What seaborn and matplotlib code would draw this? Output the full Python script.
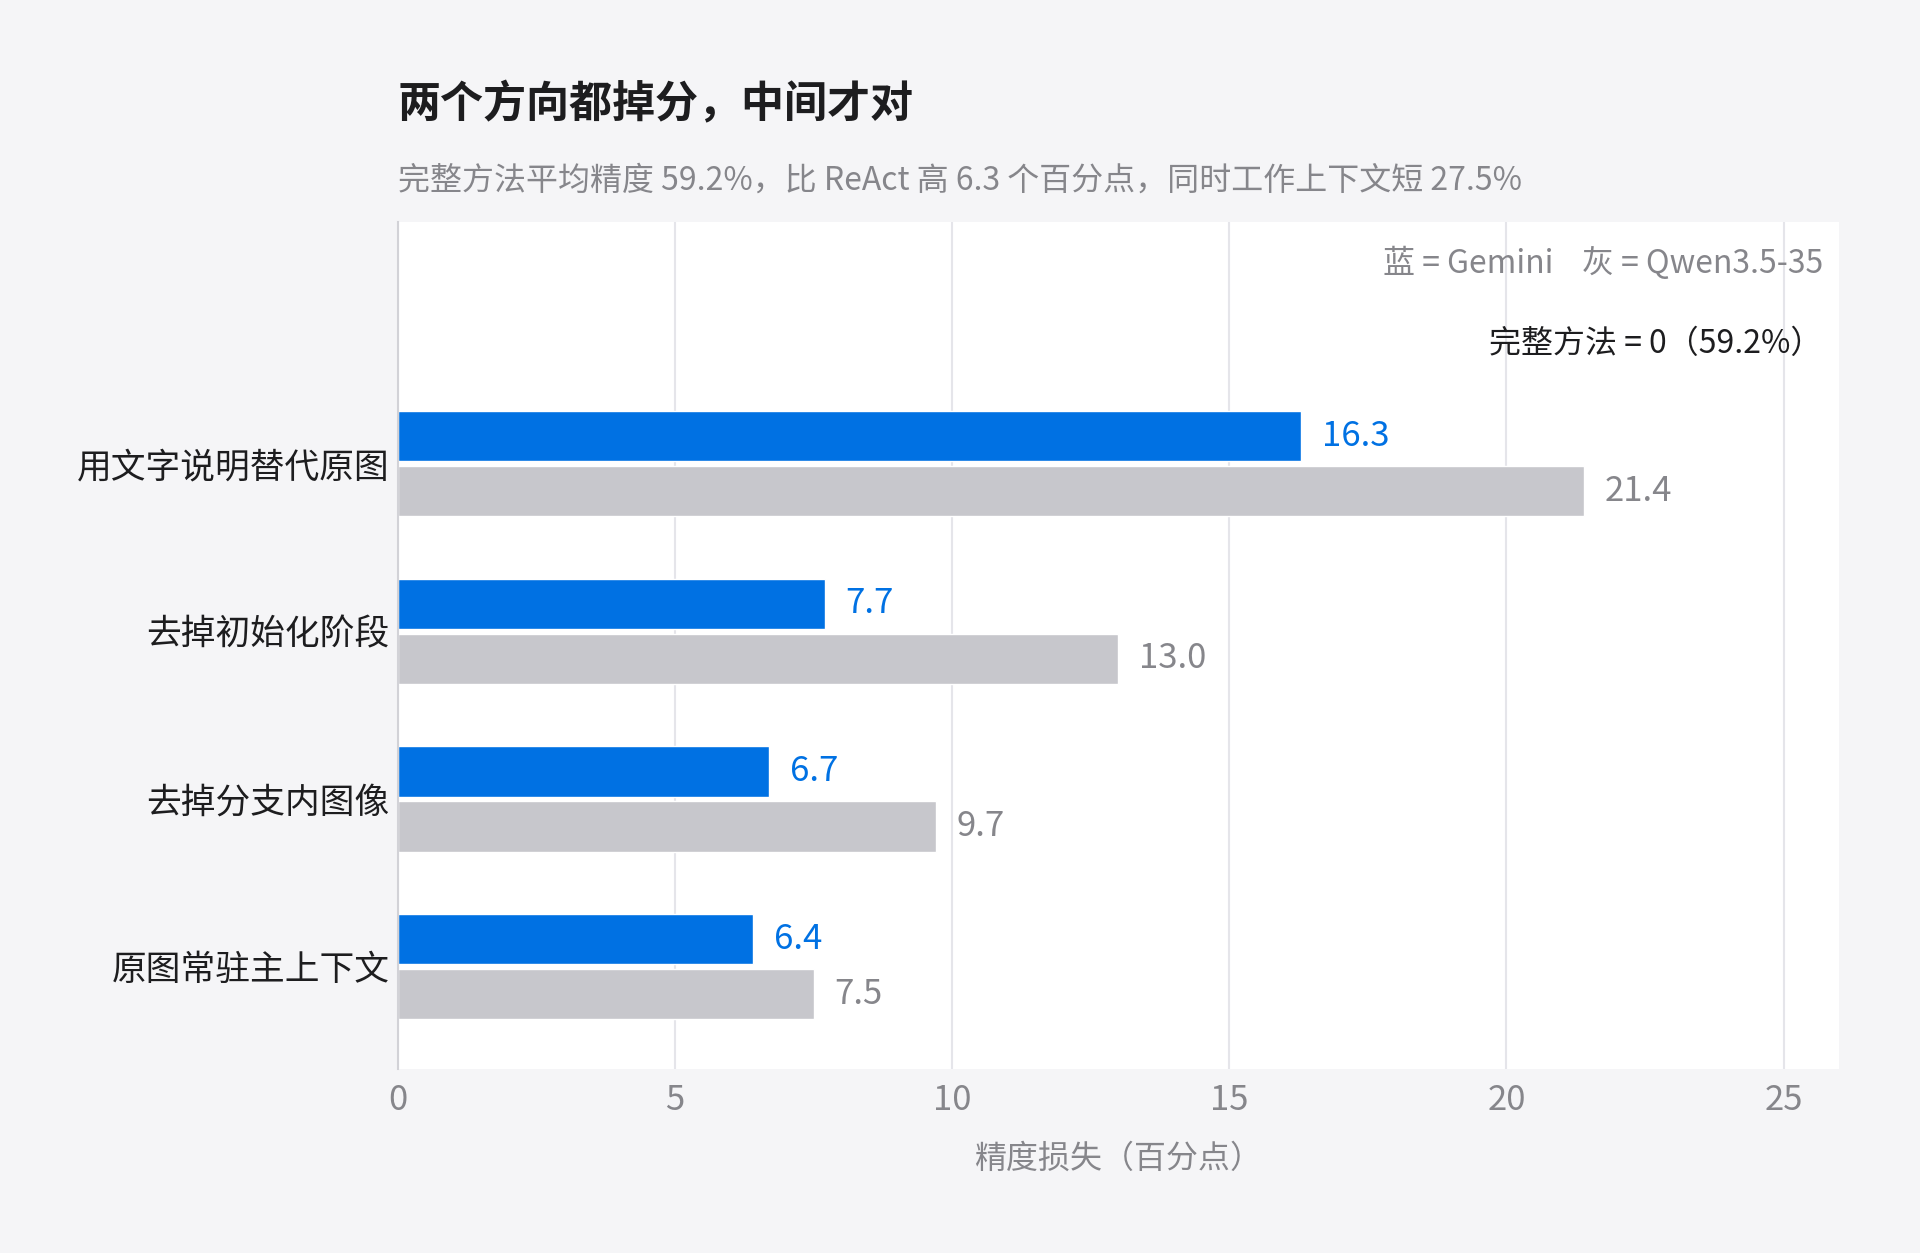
import numpy as np
import pandas as pd
import seaborn as sns
import matplotlib.pyplot as plt

sns.set_style("white")
plt.rcParams['font.family'] = ['Noto Sans CJK SC', 'DejaVu Sans']

# data
categories = ["用文字说明替代原图", "去掉初始化阶段", "去掉分支内图像", "原图常驻主上下文"]
models = ["Gemini", "Qwen3.5-35"]
gemini_loss = [16.3, 7.7, 6.7, 6.4]
qwen_loss = [21.4, 13.0, 9.7, 7.5]
x_ticks = [0, 5, 10, 15, 20, 25]

title = "两个方向都掉分，中间才对"
subtitle = "完整方法平均精度 59.2%，比 ReAct 高 6.3 个百分点，同时工作上下文短 27.5%"
legend_note = "蓝 = Gemini    灰 = Qwen3.5-35"
base_note = "完整方法 = 0（59.2%）"
x_label = "精度损失（百分点）"

BLUE = "#0071E3"
GREY = "#C7C7CC"
TEXT_GREY = "#86868B"
DARK = "#1D1D1F"
BG = "#F5F5F7"

df = pd.DataFrame({
    "cat": categories * 2,
    "model": [models[0]] * 4 + [models[1]] * 4,
    "loss": gemini_loss + qwen_loss,
})

fig = plt.figure(figsize=(19.2, 12.53), dpi=100)
fig.patch.set_facecolor(BG)
ax = fig.add_axes([0.2073, 0.1468, 0.7505, 0.676])
ax.set_facecolor("white")

sns.barplot(data=df, y="cat", x="loss", hue="model", orient="h",
            palette=[BLUE, GREY], saturation=1, width=0.657, gap=0.09,
            legend=False, ax=ax)

ax.set_xlim(0, 26)
ax.set_ylim(3.61, -1.44)
ax.set_xticks(x_ticks)
ax.xaxis.grid(True, color="#E5E5EA", linewidth=1.5)
ax.set_axisbelow(True)
for s in ["top", "right", "bottom"]:
    ax.spines[s].set_visible(False)
ax.spines["left"].set_color("#D2D2D7")
ax.spines["left"].set_linewidth(1.5)

ax.tick_params(axis="x", length=0, labelsize=25, labelcolor=TEXT_GREY, pad=10)
ax.tick_params(axis="y", length=0, labelsize=25, labelcolor=DARK, pad=6)
ax.set_ylabel("")
ax.set_xlabel(x_label, fontsize=23, color=TEXT_GREY, labelpad=18)

ax.bar_label(ax.containers[0], fmt="%.1f", padding=15, fontsize=25, color=BLUE)
ax.bar_label(ax.containers[1], fmt="%.1f", padding=15, fontsize=25, color=TEXT_GREY)

fig.text(0.2073, 0.917, title, fontsize=31, fontweight="bold", color=DARK, va="center")
fig.text(0.2073, 0.8556, subtitle, fontsize=23, color=TEXT_GREY, va="center")
fig.text(0.9495, 0.790, legend_note, fontsize=23, color=TEXT_GREY, va="center", ha="right")
fig.text(0.949, 0.7255, base_note, fontsize=23, color=DARK, va="center", ha="right")

fig.savefig("out.png", dpi=100, facecolor=BG)
plt.close()
